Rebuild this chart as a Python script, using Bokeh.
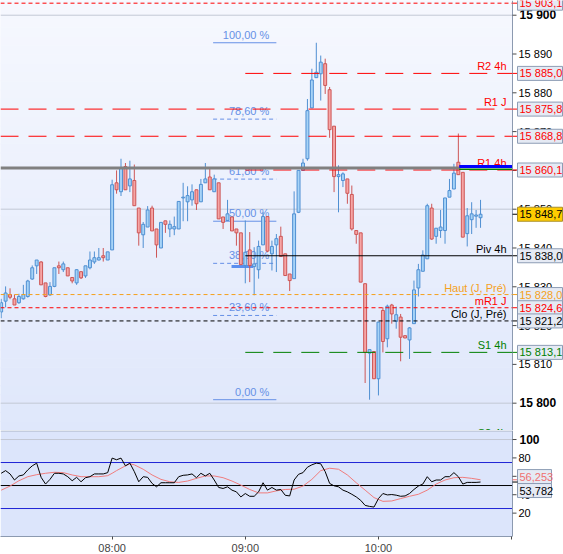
import numpy as np
from bokeh.plotting import figure
from bokeh.layouts import column
from bokeh.models import ColumnDataSource, FixedTicker, Range1d
from bokeh.core.properties import value
from bokeh.embed import file_html
from bokeh.resources import INLINE

FONT = "Liberation Sans"

# ---------------- data ----------------
first_bar = "07:10"
bar_minutes = 2

opens = [15823.5, 15826.3, 15828.0, 15826.9, 15825.9, 15826.9, 15827.5, 15832.0, 15835.4, 15836.4,
         15831.0, 15827.9, 15830.1, 15835.4, 15834.4, 15834.9, 15832.4, 15831.0, 15833.9, 15832.8,
         15834.9, 15836.4, 15836.9, 15838.0, 15836.9, 15839.5, 15856.8, 15854.5, 15861.0, 15856.0,
         15857.4, 15850.3, 15843.4, 15845.4, 15850.3, 15844.9, 15840.0, 15847.0, 15844.9, 15844.9,
         15844.9, 15852.9, 15851.9, 15852.4, 15855.0, 15851.9, 15856.8, 15858.3, 15854.5, 15856.8,
         15848.0, 15847.1, 15848.0, 15844.9, 15843.9, 15835.5, 15839.5, 15835.2, 15834.4, 15840.8,
         15848.1, 15838.5, 15840.8, 15843.0, 15838.5, 15833.3, 15832.1, 15849.2, 15860.0, 15863.0,
         15876.1, 15883.9, 15884.9, 15887.5, 15880.8, 15871.4, 15858.4, 15857.4, 15857.8, 15853.8,
         15844.5, 15843.9, 15830.8, 15812.9, 15813.3, 15806.3, 15823.9, 15816.6, 15825.3, 15821.1,
         15822.2, 15817.4, 15816.3, 15820.5, 15829.7, 15834.0, 15837.2, 15850.3, 15843.0, 15844.5,
         15844.5, 15853.1, 15855.2, 15862.1, 15859.5, 15843.7, 15847.3, 15848.2, 15847.8]
highs = [15826.9, 15830.1, 15829.6, 15828.0, 15828.2, 15830.5, 15831.8, 15835.5, 15836.9, 15836.6,
         15831.0, 15831.2, 15834.9, 15836.5, 15836.5, 15834.9, 15832.4, 15834.5, 15833.9, 15835.4,
         15839.1, 15839.1, 15840.0, 15840.0, 15839.0, 15857.6, 15860.0, 15863.0, 15861.9, 15862.5,
         15861.5, 15850.3, 15846.7, 15850.8, 15850.9, 15844.9, 15846.6, 15847.0, 15847.1, 15848.1,
         15852.0, 15856.8, 15855.9, 15856.4, 15855.0, 15857.8, 15861.9, 15860.4, 15858.9, 15856.8,
         15848.0, 15852.4, 15848.0, 15844.9, 15843.9, 15847.1, 15844.1, 15840.2, 15841.9, 15849.2,
         15848.1, 15841.9, 15843.6, 15845.5, 15838.5, 15833.3, 15854.6, 15860.0, 15863.0, 15878.4,
         15886.2, 15892.9, 15889.6, 15888.8, 15881.5, 15871.4, 15861.3, 15859.5, 15857.8, 15856.1,
         15844.5, 15843.9, 15830.8, 15813.8, 15813.3, 15820.9, 15824.7, 15825.4, 15825.6, 15824.9,
         15823.0, 15817.4, 15819.6, 15831.6, 15835.9, 15839.4, 15851.4, 15851.4, 15845.1, 15849.8,
         15852.9, 15857.8, 15861.7, 15869.5, 15859.5, 15850.3, 15851.8, 15849.8, 15852.4]
lows = [15821.9, 15824.7, 15826.8, 15825.3, 15825.6, 15826.7, 15827.2, 15831.8, 15833.3, 15830.5,
        15827.3, 15827.7, 15829.9, 15833.3, 15833.8, 15832.8, 15830.9, 15830.5, 15832.0, 15832.3,
        15834.5, 15835.9, 15836.8, 15836.5, 15836.9, 15839.5, 15854.0, 15853.4, 15855.0, 15854.4,
        15850.9, 15840.6, 15840.0, 15845.4, 15844.4, 15837.5, 15840.0, 15843.9, 15842.8, 15843.3,
        15844.9, 15846.9, 15846.9, 15850.9, 15849.8, 15851.9, 15856.8, 15855.0, 15854.5, 15847.5,
        15844.9, 15847.1, 15844.4, 15840.6, 15835.7, 15830.9, 15831.2, 15827.8, 15832.1, 15840.8,
        15838.9, 15834.2, 15833.8, 15837.8, 15832.9, 15828.9, 15832.1, 15849.0, 15860.0, 15862.5,
        15876.1, 15883.9, 15878.0, 15879.7, 15868.4, 15854.4, 15849.2, 15855.7, 15851.4, 15844.5,
        15841.1, 15831.2, 15805.2, 15800.9, 15806.3, 15802.0, 15813.1, 15814.4, 15820.5, 15819.2,
        15810.8, 15816.8, 15811.4, 15820.5, 15827.5, 15834.0, 15837.2, 15842.1, 15841.1, 15842.6,
        15841.1, 15853.1, 15855.2, 15858.9, 15842.8, 15840.4, 15843.6, 15845.2, 15845.2]
closes = [15825.9, 15828.4, 15827.3, 15825.3, 15827.5, 15828.0, 15831.5, 15834.9, 15836.9, 15830.5,
          15827.5, 15830.1, 15834.9, 15834.9, 15835.9, 15832.8, 15831.5, 15834.4, 15832.3, 15835.4,
          15836.9, 15837.5, 15837.5, 15837.5, 15839.0, 15856.3, 15855.0, 15860.7, 15855.0, 15857.8,
          15850.9, 15843.9, 15846.1, 15849.8, 15844.4, 15840.8, 15846.6, 15846.1, 15846.1, 15845.5,
          15852.0, 15853.1, 15853.5, 15854.5, 15851.4, 15856.4, 15857.8, 15855.0, 15857.8, 15847.5,
          15846.6, 15848.8, 15844.4, 15843.9, 15835.7, 15838.9, 15835.5, 15835.9, 15840.4, 15848.1,
          15839.2, 15840.4, 15842.4, 15837.8, 15832.9, 15831.6, 15848.8, 15860.0, 15861.9, 15875.4,
          15883.3, 15885.3, 15887.9, 15881.9, 15870.5, 15858.4, 15858.9, 15859.1, 15854.1, 15844.9,
          15843.5, 15831.2, 15813.1, 15813.8, 15806.3, 15820.9, 15815.9, 15825.0, 15823.0, 15822.8,
          15817.0, 15816.8, 15819.4, 15829.2, 15834.4, 15838.2, 15850.9, 15842.3, 15845.1, 15845.4,
          15852.9, 15854.8, 15859.3, 15858.9, 15842.8, 15848.3, 15848.8, 15848.5, 15848.7]

rsi = [63.3, 66.2, 62.6, 56.0, 60.4, 61.5, 67.0, 71.4, 74.3, 58.9,
       51.6, 56.7, 63.3, 63.3, 62.6, 59.6, 55.2, 58.9, 54.1, 58.5,
       59.6, 62.6, 62.6, 62.6, 64.0, 79.8, 78.0, 79.8, 71.4, 74.3,
       65.1, 54.1, 59.6, 58.9, 52.3, 48.6, 53.0, 53.0, 53.0, 53.0,
       59.6, 61.1, 61.5, 62.6, 58.5, 63.3, 60.4, 63.3, 56.0, 47.9,
       46.8, 48.6, 45.0, 43.1, 37.6, 41.3, 38.3, 38.3, 43.1, 53.0,
       45.0, 47.9, 45.0, 45.7, 39.4, 38.7, 56.0, 62.2, 64.0, 69.9,
       72.5, 74.3, 73.6, 65.1, 52.3, 49.7, 48.6, 45.0, 43.1, 40.5,
       37.6, 33.9, 28.4, 27.3, 26.6, 35.8, 41.3, 39.8, 40.2, 39.5,
       38.3, 38.7, 41.3, 45.7, 49.4, 51.6, 59.6, 54.1, 56.0, 56.0,
       59.6, 59.6, 64.0, 59.6, 51.6, 53.4, 53.4, 53.4, 53.782]

rsi_ma_bar = [0, 2, 4, 6, 8, 10, 12, 14, 16, 18, 20, 22, 24, 25, 26, 28, 29, 30, 32, 34,
              36, 38, 40, 42, 44, 46, 48, 50, 52, 54, 56, 58, 60, 62, 64, 66, 68, 70, 72, 74,
              76, 78, 80, 82, 84, 86, 88, 90, 92, 94, 96, 98, 100, 102, 104, 106, 108]
rsi_ma = [44.9, 49.4, 55.2, 59.6, 61.8, 63.3, 64.4, 64.0, 61.5, 59.6,
          59.6, 59.6, 60.7, 63.3, 66.2, 71.4, 73.6, 72.5, 67.7, 61.5,
          56.7, 54.1, 53.4, 54.9, 57.8, 60.4, 60.4, 58.5, 54.9, 50.5,
          45.7, 42.0, 42.0, 44.2, 45.7, 46.0, 49.4, 56.7, 66.2, 68.8,
          67.7, 61.5, 53.0, 45.0, 36.9, 32.8, 33.2, 35.8, 38.3, 40.5,
          45.0, 51.6, 56.0, 58.5, 58.9, 57.8, 56.253]

time_ticks = ["08:00", "09:00", "10:00", "11:00"]
time_tick_shown = [True, True, True, False]

level_names = ["", "R2 4h", "R1 J", "", "R1 4h", "Piv 4h", "Haut (J, Pré)", "mR1 J",
               "Clo (J, Pré)", "S1 4h", "S2 4h"]
level_values = [15903.1, 15885.0, 15875.8, 15868.8, 15860.1, 15838.0, 15828.0, 15824.6,
                15821.2, 15813.1, 15790.4]
level_colors = ["#ff0000", "#ff0000", "#ff0000", "#ff0000", "#ff0000", "#000000", "#f5a11c",
                "#ff0000", "#000000", "#008000", "#008000"]
level_styles = ["short", "long", "long", "long", "long", "solid", "short", "short", "short",
                "long", "long"]
level_periods = ["J", "4h", "J", "J", "4h", "4h", "J", "J", "J", "4h", "4h"]

last_price = 15848.7
day_high_line = 15860.6
new_high_blue = 15861.0
new_high_green = 15860.3
fib_low = 15800.9
fib_high = 15892.9
fib_ratios = [1.0, 0.786, 0.618, 0.5, 0.382, 0.236, 0.0]
fib_labels = ["100,00 %", "78,60 %", "61,80 %", "50,00 %", "38,20 %", "23,60 %", "0,00 %"]
fib_solid = [True, False, False, True, False, False, True]
fib_anchor_price = 15835.2

rsi_bands = [75, 25]
rsi_mid = 50
rsi_ticks = [20, 40, 60, 80, 100]
rsi_bold = [100]
price_ticks = list(range(15800, 15901, 10))
price_bold = [15800, 15900]
price_grid = [15800, 15850, 15900]

# ---------------- layout constants ----------------
X0, X1 = -0.15, 115.2          # data span of the plotting area (up to the price axis)
FW_PLOT, W = 512, 563          # pixels: plotting area width, full width
FH_MAIN, FH_RSI, XAX_H = 430, 106, 18
PXU = FW_PLOT / (X1 - X0)
XR = X0 + W / PXU
Y0, Y1 = 15792.96, 15903.79
R0, R1 = -5.4, 109.8
PYU_RSI = FH_RSI / (R1 - R0)

BLUE_FILL, BLUE_LINE = "#a6d3f7", "#4f8fd2"
RED_FILL, RED_LINE = "#f6a5a5", "#cd5656"
FIB_COL = "#6690e6"
AX_COL = "#8c9ab0"
GRID_COL = "#c3c8d5"
BOX_FILL, BOX_LINE = "#e5eaf4", "#8d9db5"
DASH = {"short": "4 3", "long": "18 10", "solid": "solid"}


def fr(v, d):
    return f"{v:,.{d}f}".replace(",", " ").replace(".", ",")


def bar_of(hhmm):
    h0, m0 = map(int, first_bar.split(":"))
    h, m = map(int, hhmm.split(":"))
    return ((h * 60 + m) - (h0 * 60 + m0)) / bar_minutes


def hexmix(c0, c1, t):
    a = [int(c0[i:i + 2], 16) for i in (1, 3, 5)]
    b = [int(c1[i:i + 2], 16) for i in (1, 3, 5)]
    return "#%02x%02x%02x" % tuple(round(a[k] + (b[k] - a[k]) * t) for k in range(3))


def txt(fig, x, y, s, color="#000000", size="11px", align="left", baseline="middle",
        style="normal", xo=0, yo=0):
    fig.text(x=[x], y=[y], text=[s], text_color=color, text_font=value(FONT),
             text_font_size=size, text_align=align, text_baseline=baseline,
             text_font_style=style, x_offset=xo, y_offset=yo)


def right_axis(fig, lo, hi, ticks, bold):
    fig.segment(x0=X1, y0=lo, x1=X1, y1=hi, line_color=AX_COL, line_width=1)
    fig.segment(x0=[X1] * len(ticks), y0=ticks, x1=[X1 + 4 / PXU] * len(ticks), y1=ticks,
                line_color="#4a4a4a", line_width=1)
    for t in ticks:
        if t in bold:
            txt(fig, X1 + 7 / PXU, t, fr(t, 0), size="12px", style="bold")
        else:
            txt(fig, X1 + 6 / PXU, t, fr(t, 0))


def value_box(fig, v, text, color, width=45, fill=BOX_FILL, border=BOX_LINE, dy=0.0):
    fig.segment(x0=X1, y0=v, x1=X1 + 5 / PXU, y1=v, line_color=color, line_width=1)
    yb = v + dy
    fig.rect(x=[X1 + (5 + width / 2) / PXU], y=[yb], width=width, height=14,
             width_units="screen", height_units="screen", fill_color=fill, line_color=border)
    txt(fig, X1 + 7 / PXU, yb, text, color=color)


n = len(opens)
xs = list(range(n))
up = [c >= o for o, c in zip(opens, closes)]
src = ColumnDataSource(dict(
    x=xs, h=highs, l=lows,
    top=[max(o, c) for o, c in zip(opens, closes)],
    bot=[min(o, c) for o, c in zip(opens, closes)],
    fill=[BLUE_FILL if u else RED_FILL for u in up],
    line=[BLUE_LINE if u else RED_LINE for u in up],
))

xr = Range1d(X0, XR)

# ---------------- main price panel ----------------
p = figure(frame_width=W, frame_height=FH_MAIN, x_range=xr, y_range=Range1d(Y0, Y1),
           y_axis_location=None, x_axis_location=None, toolbar_location=None,
           output_backend="svg", min_border_left=0, min_border_right=0,
           min_border_top=0, min_border_bottom=0, border_fill_color="white",
           background_fill_color="white", outline_line_color=None)
p.grid.visible = False

nb = 48
edges = np.linspace(Y0, Y1, nb + 1)
cols = [hexmix("#dfe7fb", "#f6f8fe", (i + 0.5) / nb) for i in range(nb)]
p.quad(left=X0, right=X1, bottom=edges[:-1], top=edges[1:], fill_color=cols,
       line_color=cols, line_width=1)
p.segment(x0=[X0] * len(price_grid), y0=price_grid, x1=[X1] * len(price_grid), y1=price_grid,
          line_color=GRID_COL, line_width=1)

# fibonacci retracement (under candles)
FIB_XA, FIB_XB, FIB_XT = 47.75, 62.0, 60.4
for r, lab, solid in zip(fib_ratios, fib_labels, fib_solid):
    pr = fib_low + r * (fib_high - fib_low)
    p.segment(x0=FIB_XA, y0=pr, x1=FIB_XB, y1=pr, line_color=FIB_COL, line_width=1,
              line_dash="solid" if solid else "4 3")
    txt(p, FIB_XT, pr, lab, color=FIB_COL, align="right", baseline="bottom", yo=-2)
p.segment(x0=51.9, y0=fib_anchor_price, x1=56.8, y1=fib_anchor_price,
          line_color="#5b8ff0", line_width=3)

# candles
p.segment(x0="x", y0="h", x1="x", y1="l", line_color="line", line_width=1, source=src)
p.vbar(x="x", width=0.66, top="top", bottom="bot", fill_color="fill", line_color="line",
       line_width=1, source=src)

# horizontal levels
start_4h = bar_of("09:00")
for nm, v, c, st, per in zip(level_names, level_values, level_colors, level_styles, level_periods):
    xa = start_4h if per == "4h" else X0
    p.segment(x0=xa, y0=v, x1=X1, y1=v, line_color=c, line_width=1, line_dash=DASH[st])
    if nm:
        txt(p, X1, v, nm, color=c, align="right", baseline="bottom", xo=-6, yo=-1)

brk = 103.2
p.segment(x0=X0, y0=day_high_line, x1=brk, y1=day_high_line, line_color="#808080", line_width=3)
p.segment(x0=brk, y0=new_high_green, x1=X1, y1=new_high_green, line_color="#008000", line_width=1.5)
p.segment(x0=brk, y0=new_high_blue, x1=X1, y1=new_high_blue, line_color="#0000ff", line_width=3)

# price axis and value boxes
right_axis(p, Y0, Y1, price_ticks, price_bold)
for v, c in zip(level_values, level_colors):
    if Y0 < v < Y1:
        value_box(p, v, fr(v, 1), c)
value_box(p, last_price, fr(last_price, 1), "#000000", fill="#ffcc00", border="#a88f2a")

# ---------------- RSI panel ----------------
q = figure(frame_width=W, frame_height=FH_RSI, x_range=xr, y_range=Range1d(R0, R1),
           y_axis_location=None, toolbar_location=None, output_backend="svg",
           min_border_left=0, min_border_right=0, min_border_top=0, min_border_bottom=XAX_H,
           border_fill_color="white", background_fill_color="white", outline_line_color=None)
q.grid.visible = False
q.quad(left=X0, right=X1, bottom=R0, top=R1, fill_color="#dce5fb", line_color=None)
q.segment(x0=X0, y0=100, x1=X1, y1=100, line_color=GRID_COL, line_width=1)
q.segment(x0=X0, y0=R1 - 0.5 / PYU_RSI, x1=X1, y1=R1 - 0.5 / PYU_RSI,
          line_color="#a9b3c4", line_width=1)

for b in rsi_bands:
    q.segment(x0=X0, y0=b, x1=X1, y1=b, line_color="#1f24d6", line_width=1)
q.segment(x0=X0, y0=rsi_mid, x1=X1, y1=rsi_mid, line_color="#000000", line_width=1)
q.line(rsi_ma_bar, rsi_ma, line_color="#f07c7c", line_width=1)
q.line(xs, rsi, line_color="#000000", line_width=1)

right_axis(q, R0, R1, rsi_ticks, rsi_bold)
value_box(q, rsi_ma[-1], fr(rsi_ma[-1], 3), "#f07070", width=34, dy=3.2 / PYU_RSI)
value_box(q, rsi[-1], fr(rsi[-1], 3), "#000000", width=34, dy=-8.5 / PYU_RSI)

xa_ = q.xaxis[0]
tick_pos = [bar_of(t) for t in time_ticks]
xa_.ticker = FixedTicker(ticks=tick_pos)
xa_.major_label_overrides = {tp: (t if s else "") for tp, t, s in zip(tick_pos, time_ticks, time_tick_shown)}
xa_.bounds = (X0, X1)
xa_.axis_line_color = AX_COL
xa_.major_tick_line_color = "#4a4a4a"
xa_.major_tick_in = 0
xa_.major_tick_out = 3
xa_.minor_tick_line_color = None
xa_.major_label_standoff = 2
xa_.major_label_text_font = FONT
xa_.major_label_text_font_size = "11px"

layout = column(p, q, spacing=0)
open("out.html", "w").write(file_html(layout, INLINE))
